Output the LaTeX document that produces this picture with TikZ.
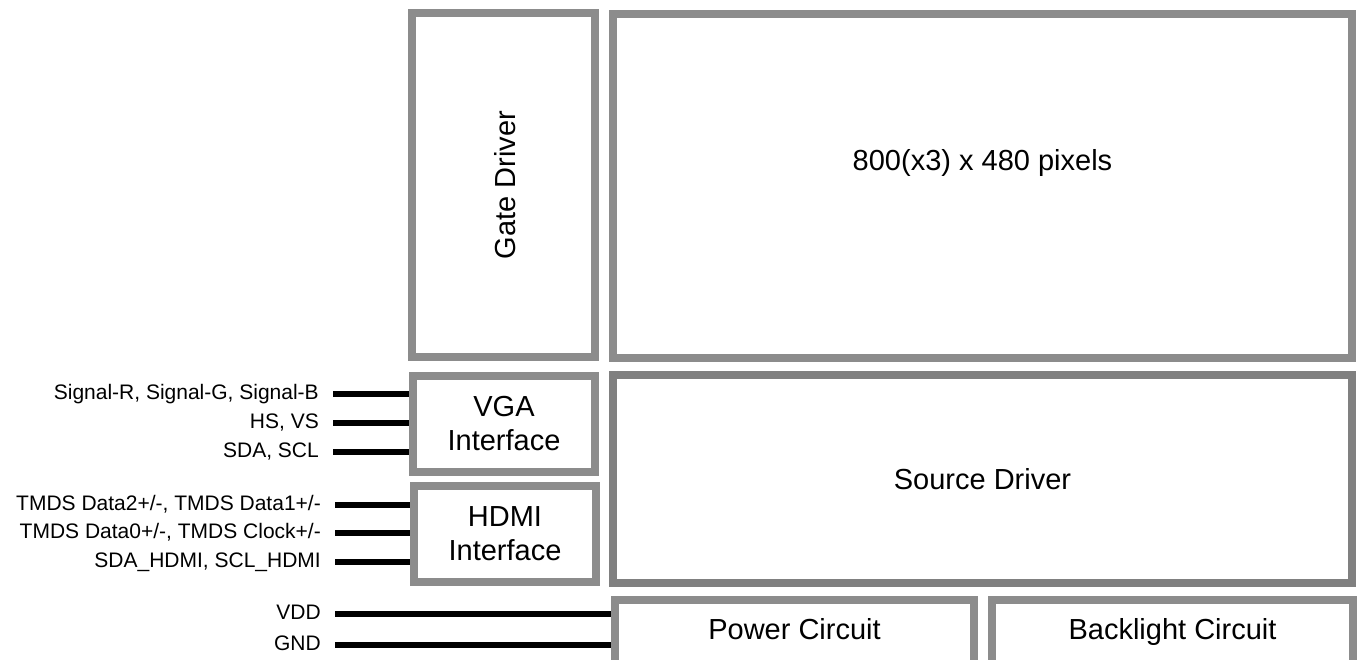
\documentclass[tikz,border=0pt]{standalone}
\usepackage{fontspec}
\setmainfont{Liberation Sans}
\begin{document}
\begin{tikzpicture}[x=1pt, y=-1pt,
    every node/.style={inner sep=0pt},
    blk/.style={draw=gray!80!black!75, line width=8pt, fill=white, font=\fontsize{29}{34}\selectfont, align=center},
    blkdark/.style={blk, draw=black!50},
    lowblk/.style={blk, minimum height=64pt, text height=21pt, text depth=6pt},
    sig/.style={anchor=east, font=\fontsize{21}{25}\selectfont, text height=15pt, text depth=4pt},
    wire/.style={line width=6pt, shorten <=14pt}]
    \useasboundingbox (0,0) rectangle (1357,659);
    \clip (0,0) rectangle (1357,659);
    % 显示模块框图
    \node[blk, minimum width=183pt, minimum height=344pt] (gate) at (503.5,185) {};
    \node[rotate=90, font=\fontsize{29}{34}\selectfont] at ([xshift=2pt]gate.center) {Gate Driver};
    \node[blk, minimum width=739pt, minimum height=344pt] (panel) at (982.5,186) {};
    \node[font=\fontsize{29}{34}\selectfont] at (982.5,163) {800(x3) x 480 pixels};
    \node[blkdark, minimum width=739pt, minimum height=208pt] (source) at (982.5,479) {Source Driver};
    \node[blk, minimum width=182pt, minimum height=96pt] (vga) at (504,424) {VGA\\Interface};
    \node[blk, minimum width=182pt, minimum height=96pt] (hdmi) at (505,534) {HDMI\\Interface};
    \node[lowblk, minimum width=359pt] (power) at (794.5,632) {Power Circuit};
    \node[lowblk, minimum width=361pt] (back) at (1172.5,632) {Backlight Circuit};

    % 输入信号
    \node[sig] (rgb) at (319,394) {Signal-R, Signal-G, Signal-B};
    \node[sig] (hv) at (319,423) {HS, VS};
    \node[sig] (sda) at (319,452) {SDA, SCL};
    \node[sig] (tmdsA) at (321,505) {TMDS Data2+/-, TMDS Data1+/-};
    \node[sig] (tmdsB) at (321,533) {TMDS Data0+/-, TMDS Clock+/-};
    \node[sig] (ddc) at (321,562) {SDA\_HDMI, SCL\_HDMI};
    \node[sig] (vdd) at (321,614) {VDD};
    \node[sig] (gnd) at (321,645) {GND};

    \draw[wire] (rgb.east) -- (rgb.east -| vga.west);
    \draw[wire] (hv.east) -- (hv.east -| vga.west);
    \draw[wire] (sda.east) -- (sda.east -| vga.west);
    \draw[wire] (tmdsA.east) -- (tmdsA.east -| hdmi.west);
    \draw[wire] (tmdsB.east) -- (tmdsB.east -| hdmi.west);
    \draw[wire] (ddc.east) -- (ddc.east -| hdmi.west);
    \draw[wire] (vdd.east) -- (vdd.east -| power.west);
    \draw[wire] (gnd.east) -- (gnd.east -| power.west);
\end{tikzpicture}
\end{document}
